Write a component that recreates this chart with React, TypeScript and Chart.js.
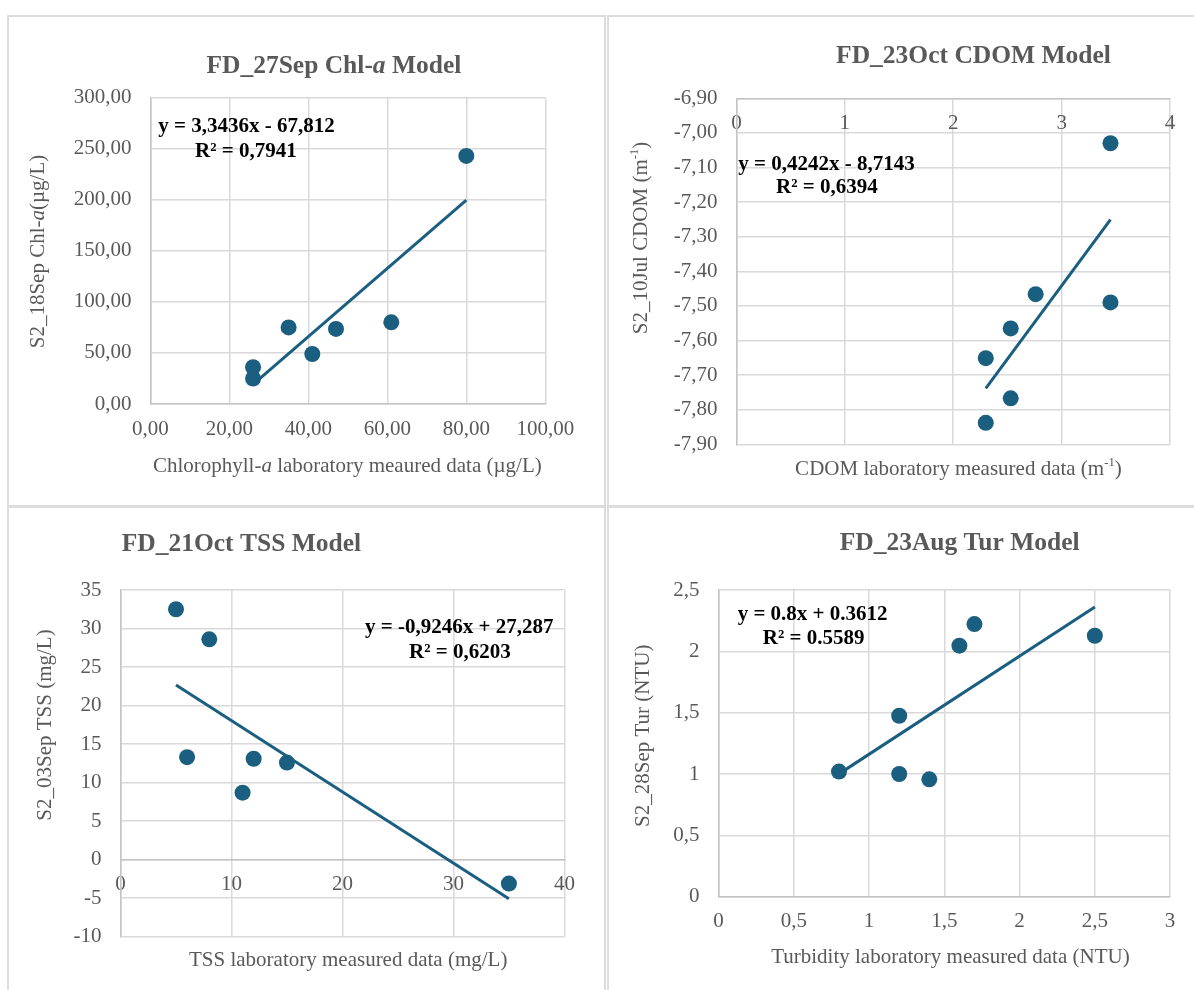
import React, { useEffect, useRef } from 'react';
import { Chart, registerables } from 'chart.js';

Chart.register(...registerables);

// ---------------- data ----------------
// Panel 1: Chl-a
const chlLab = [80, 35, 41, 47, 61, 26, 26];
const chlSat = [243, 75, 49, 73.5, 80, 36, 25];
const chlFit = [3.3436, -67.812];
const chlXTicks = [0, 20, 40, 60, 80, 100];
const chlYTicks = [0, 50, 100, 150, 200, 250, 300];
const chlEq = ['y = 3,3436x - 67,812', 'R² = 0,7941'];

// Panel 2: CDOM
const cdomLab = [3.45, 3.45, 2.76, 2.53, 2.3, 2.53, 2.3];
const cdomSat = [-7.03, -7.49, -7.466, -7.565, -7.651, -7.767, -7.838];
const cdomFit = [0.4242, -8.7143];
const cdomXTicks = [0, 1, 2, 3, 4];
const cdomYTicks = [-7.9, -7.8, -7.7, -7.6, -7.5, -7.4, -7.3, -7.2, -7.1, -7.0, -6.9];
const cdomEq = ['y = 0,4242x - 8,7143', 'R² = 0,6394'];

// Panel 3: TSS
const tssLab = [5, 8, 6, 12, 15, 11, 35];
const tssSat = [32.5, 28.6, 13.3, 13.1, 12.6, 8.7, -3.1];
const tssFit = [-0.9246, 27.287];
const tssXTicks = [0, 10, 20, 30, 40];
const tssYTicks = [-10, -5, 0, 5, 10, 15, 20, 25, 30, 35];
const tssEq = ['y = -0,9246x + 27,287', 'R² = 0,6203'];

// Panel 4: Turbidity
const turLab = [0.8, 1.2, 1.2, 1.4, 1.6, 1.7, 2.5];
const turSat = [1.02, 1.475, 1.0, 0.957, 2.046, 2.222, 2.127];
const turFit = [0.8, 0.3612];
const turXTicks = [0, 0.5, 1, 1.5, 2, 2.5, 3];
const turYTicks = [0, 0.5, 1, 1.5, 2, 2.5];
const turEq = ['y = 0.8x + 0.3612', 'R² = 0.5589'];

// ---------------- styles ----------------
const SERIF = '"Liberation Serif", "Times New Roman", Times, serif';
const BLUE = '#1a5e80';
const GREY_TEXT = '#595959';
const GRID = '#d9d9d9';
const AXIS = '#c4c4c4';

const comma2 = (v: number) => v.toFixed(2).replace('.', ',');
const plain = (v: number) => String(v).replace('.', ',');

type Seg = { t: string; i?: boolean; sup?: boolean };
type TextItem = {
  segs: Seg[];
  x: number;
  y: number;
  size: number;
  bold?: boolean;
  color: string;
  rotate?: boolean;
  align?: 'left' | 'center';
};

type PanelCfg = {
  box: [number, number, number, number];
  plot: [number, number, number, number];
  xs: number[];
  ys: number[];
  fit: number[];
  xTicks: number[];
  yTicks: number[];
  xFmt: (v: number) => string;
  yFmt: (v: number) => string;
  xPos: 'bottom' | 'top' | 'zero';
  xPad: number;
  texts: TextItem[];
};

const titleItem = (segs: Seg[], x: number, y: number, align: 'left' | 'center' = 'center'): TextItem => ({
  segs, x, y, size: 25.5, bold: true, color: GREY_TEXT, align,
});
const eqItems = (eq: string[], x1: number, y1: number, x2: number, y2: number): TextItem[] => [
  { segs: [{ t: eq[0] }], x: x1, y: y1, size: 21, bold: true, color: '#000' },
  { segs: [{ t: eq[1] }], x: x2, y: y2, size: 21, bold: true, color: '#000' },
];
const axTitle = (segs: Seg[], x: number, y: number, rotate = false): TextItem => ({
  segs, x, y, size: 21, color: GREY_TEXT, rotate,
});

const panels: PanelCfg[] = [
  {
    box: [9, 17, 595, 488],
    plot: [150.4, 97.7, 545.3, 404],
    xs: chlLab, ys: chlSat, fit: chlFit,
    xTicks: chlXTicks, yTicks: chlYTicks, xFmt: comma2, yFmt: comma2,
    xPos: 'bottom', xPad: 13,
    texts: [
      titleItem([{ t: 'FD_27Sep Chl-' }, { t: 'a', i: true }, { t: ' Model' }], 333.9, 66.5),
      ...eqItems(chlEq, 246.4, 126.3, 245.9, 152),
      axTitle([{ t: 'Chlorophyll-' }, { t: 'a', i: true }, { t: ' laboratory meaured data (µg/L)' }], 347.3, 466.7),
      axTitle([{ t: 'S2_18Sep Chl-' }, { t: 'a', i: true }, { t: '(µg/L)' }], 38.3, 251.5, true),
    ],
  },
  {
    box: [609, 17, 585, 488],
    plot: [736.4, 98.3, 1170.1, 444.3],
    xs: cdomLab, ys: cdomSat, fit: cdomFit,
    xTicks: cdomXTicks, yTicks: cdomYTicks, xFmt: plain, yFmt: comma2,
    xPos: 'top', xPad: 12.3,
    texts: [
      titleItem([{ t: 'FD_23Oct CDOM Model' }], 973.5, 56.7),
      ...eqItems(cdomEq, 826.4, 164.7, 826.9, 188),
      axTitle([{ t: 'CDOM laboratory measured data (m' }, { t: '-1', sup: true }, { t: ')' }], 958.4, 469.5),
      axTitle([{ t: 'S2_10Jul CDOM (m' }, { t: '-1', sup: true }, { t: ')' }], 641.7, 238, true),
    ],
  },
  {
    box: [9, 508, 595, 482],
    plot: [120.5, 590, 564.4, 936.7],
    xs: tssLab, ys: tssSat, fit: tssFit,
    xTicks: tssXTicks, yTicks: tssYTicks, xFmt: plain, yFmt: plain,
    xPos: 'zero', xPad: 12.2,
    texts: [
      titleItem([{ t: 'FD_21Oct TSS Model' }], 121.7, 544.7, 'left'),
      ...eqItems(tssEq, 459.2, 628, 459.8, 653),
      axTitle([{ t: 'TSS laboratory measured data (mg/L)' }], 348.2, 960),
      axTitle([{ t: 'S2_03Sep TSS (mg/L)' }], 45.2, 725, true),
    ],
  },
  {
    box: [609, 508, 585, 482],
    plot: [718.6, 590, 1170.1, 896.7],
    xs: turLab, ys: turSat, fit: turFit,
    xTicks: turXTicks, yTicks: turYTicks, xFmt: plain, yFmt: plain,
    xPos: 'bottom', xPad: 12.4,
    texts: [
      titleItem([{ t: 'FD_23Aug Tur Model' }], 959.6, 543.4),
      ...eqItems(turEq, 812.6, 614.7, 813.6, 638.7),
      axTitle([{ t: 'Turbidity laboratory measured data (NTU)' }], 950.4, 957.5),
      axTitle([{ t: 'S2_28Sep Tur (NTU)' }], 643.6, 735.7, true),
    ],
  },
];

function drawRich(ctx: CanvasRenderingContext2D, item: TextItem, ox: number, oy: number) {
  ctx.save();
  ctx.translate(item.x - ox, item.y - oy);
  if (item.rotate) ctx.rotate(-Math.PI / 2);
  ctx.fillStyle = item.color;
  ctx.textBaseline = 'middle';
  ctx.textAlign = 'left';
  const fontOf = (s: Seg) =>
    `${s.i ? 'italic ' : ''}${item.bold ? 'bold ' : ''}${s.sup ? item.size * 0.6 : item.size}px ${SERIF}`;
  let total = 0;
  const widths = item.segs.map((s) => {
    ctx.font = fontOf(s);
    const w = ctx.measureText(s.t).width;
    total += w;
    return w;
  });
  let x = item.align === 'left' ? 0 : -total / 2;
  item.segs.forEach((s, k) => {
    ctx.font = fontOf(s);
    ctx.fillText(s.t, x, s.sup ? -item.size * 0.33 : 0);
    x += widths[k];
  });
  ctx.restore();
}

function Panel({ cfg }: { cfg: PanelCfg }) {
  const ref = useRef<HTMLCanvasElement | null>(null);
  useEffect(() => {
    const canvas = ref.current;
    if (!canvas) return;
    const [cx, cy, cw, ch] = cfg.box;
    const [pl, pt, pr, pb] = cfg.plot;
    const xMin = cfg.xTicks[0];
    const xMax = cfg.xTicks[cfg.xTicks.length - 1];
    const yMin = cfg.yTicks[0];
    const yMax = cfg.yTicks[cfg.yTicks.length - 1];
    const pts = cfg.xs.map((x, i) => ({ x, y: cfg.ys[i] }));
    const lo = Math.min(...cfg.xs);
    const hi = Math.max(...cfg.xs);
    const trend = [lo, hi].map((x) => ({ x, y: cfg.fit[0] * x + cfg.fit[1] }));
    const tickFont = { family: SERIF, size: 21 };
    const xAxisH = cfg.xPos === 'bottom' ? cy + ch - pb : 0;
    const padBottom = cfg.xPos === 'bottom' ? 0 : cy + ch - pb;
    const xPosition: any = cfg.xPos === 'zero' ? { y: 0 } : cfg.xPos;

    const textPlugin = {
      id: 'richText' + cx + cy,
      afterDraw(chart: any) {
        const ctx = chart.ctx as CanvasRenderingContext2D;
        cfg.texts.forEach((t) => drawRich(ctx, t, cx, cy));
      },
    };

    const chart = new Chart(canvas, {
      type: 'scatter',
      data: {
        datasets: [
          {
            data: trend,
            showLine: true,
            borderColor: BLUE,
            borderWidth: 3,
            pointRadius: 0,
            fill: false,
            order: 0,
          } as any,
          {
            data: pts,
            backgroundColor: BLUE,
            borderWidth: 0,
            pointRadius: 8,
            order: 1,
          } as any,
        ],
      },
      options: {
        responsive: false,
        animation: false,
        events: [],
        layout: { padding: { left: 0, top: pt - cy, right: cx + cw - pr, bottom: padBottom } },
        plugins: {
          legend: { display: false },
          tooltip: { enabled: false },
          title: { display: false },
        },
        scales: {
          x: {
            type: 'linear',
            position: xPosition,
            min: xMin,
            max: xMax,
            afterBuildTicks: (s: any) => {
              s.ticks = cfg.xTicks.map((v) => ({ value: v }));
            },
            afterFit: (s: any) => {
              s.height = xAxisH;
            },
            ticks: {
              font: tickFont,
              color: GREY_TEXT,
              padding: cfg.xPad,
              mirror: cfg.xPos === 'top',
              maxRotation: 0,
              minRotation: 0,
              autoSkip: false,
              callback: (v: any) => cfg.xFmt(Number(v)),
            },
            grid: { color: GRID, lineWidth: 1.5, drawTicks: false },
            border: { color: AXIS, width: 1.5 },
          } as any,
          y: {
            type: 'linear',
            position: 'left',
            min: yMin,
            max: yMax,
            afterBuildTicks: (s: any) => {
              s.ticks = cfg.yTicks.map((v) => ({ value: v }));
            },
            afterFit: (s: any) => {
              s.width = pl - cx;
            },
            ticks: {
              font: tickFont,
              color: GREY_TEXT,
              padding: 19,
              autoSkip: false,
              callback: (v: any) => cfg.yFmt(Number(v)),
            },
            grid: { color: GRID, lineWidth: 1.5, drawTicks: false },
            border: { color: AXIS, width: 1.5 },
          } as any,
        },
      },
      plugins: [textPlugin],
    } as any);
    return () => chart.destroy();
  }, [cfg]);

  const [cx, cy, cw, ch] = cfg.box;
  return (
    <canvas
      ref={ref}
      width={cw}
      height={ch}
      style={{ position: 'absolute', left: cx, top: cy, width: cw, height: ch }}
    />
  );
}

const frames: [number, number, number, number][] = [
  [7, 15, 599, 492],
  [607, 15, 600, 492],
  [7, 506, 599, 500],
  [607, 506, 600, 500],
];

export default function App() {
  return (
    <div
      style={{
        position: 'absolute',
        left: 0,
        top: 0,
        width: 1194,
        height: 990,
        overflow: 'hidden',
        background: '#ffffff',
      }}
    >
      {frames.map(([l, t, w, h], i) => (
        <div
          key={'f' + i}
          style={{
            position: 'absolute',
            left: l,
            top: t,
            width: w,
            height: h,
            boxSizing: 'border-box',
            border: '2px solid #dcdcdc',
          }}
        />
      ))}
      {panels.map((p, i) => (
        <Panel key={i} cfg={p} />
      ))}
    </div>
  );
}
